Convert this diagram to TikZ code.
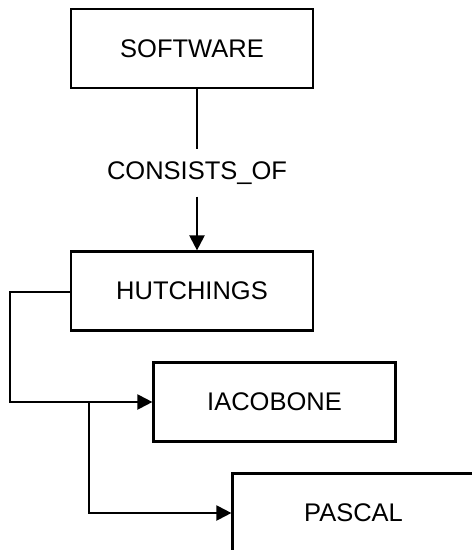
\documentclass[tikz,border=0pt]{standalone}
\usepackage{fontspec}
\setmainfont{Liberation Sans}
\usetikzlibrary{arrows.meta}
\begin{document}
\begin{tikzpicture}[x=1pt,y=-1pt,
  entity/.style={draw,line width=2.2pt,minimum width=242pt,minimum height=79pt,
    inner sep=0pt,font=\fontsize{25.5}{28}\selectfont},
  rellabel/.style={inner sep=0pt,minimum height=47pt,font=\fontsize{25.5}{28}\selectfont},
  link/.style={line width=2.2pt},
  arrowlink/.style={line width=2.2pt,-{Triangle[length=15pt,width=15pt]}}]
\useasboundingbox (0,0) rectangle (472,550);
\node[entity] (software) at (192,48.5) {SOFTWARE};
\node[entity] (hutch) at (192,291) {HUTCHINGS};
\node[entity] (iaco) at (274.5,402) {IACOBONE};
\node[entity] (pascal) at (353.5,513) {PASCAL};
\node[rellabel] (lbl) at (197,173) {CONSISTS\_OF};
\coordinate (bend1) at (10,292);
\coordinate (split) at (89,403);
% SOFTWARE consists of HUTCHINGS
\draw[link] (lbl.north |- software.south) -- (lbl.north);
\draw[arrowlink] (lbl.south) -- (lbl.south |- hutch.north);
% member chain
\draw[arrowlink] (hutch.west |- bend1) -- (bend1) |- (iaco.west);
\draw[arrowlink] (split) |- (pascal.west);
\end{tikzpicture}
\end{document}
